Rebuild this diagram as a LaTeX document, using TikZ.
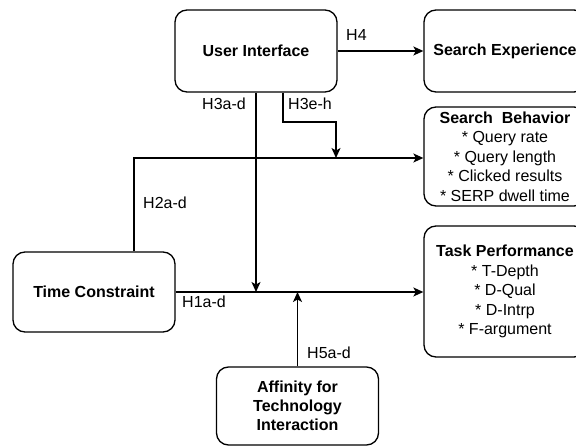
\documentclass[tikz,border=0pt]{standalone}
\usepackage{fontspec}
\setmainfont{Liberation Sans}
\usetikzlibrary{arrows.meta, positioning}
\tikzset{
  every picture/.style={font=\fontsize{16}{19.5}\selectfont, >={Stealth[length=10pt, width=9pt, inset=2.5pt]}},
  var/.style={draw=black, line width=1.3pt, rounded corners=12pt, minimum width=162pt,
              inner sep=0pt, align=center, font=\fontsize{16}{19}\selectfont\bfseries},
  listvar/.style={var, font=\fontsize{16}{19.5}\selectfont},
  lbl/.style={anchor=west, inner sep=0pt},
  flow/.style={->, line width=1.3pt},
}

\begin{document}
\begin{tikzpicture}[x=1pt, y=-1pt]
  \useasboundingbox (0,0) rectangle (576,446);
  % constructs
  \node[listvar, minimum height=99pt] (sb) at (505,156.5) {\textbf{Search\ \ Behavior}\\{*} Query rate\\{*} Query length\\{*} Clicked results\\{*} SERP dwell time};
  \node[var, minimum height=82pt] (ui) at (256,51) {User Interface};
  \node[var, minimum height=82pt] (se) at (505,51) {Search Experience};
  \node[listvar, minimum height=131pt] (tp) at (505,291.5) {\textbf{Task Performance}\\{*} T-Depth\\{*} D-Qual\\{*} D-Intrp\\{*} F-argument};
  \node[var, minimum height=80pt] (tc) at (94,292) {Time Constraint};
  \node[var, minimum height=78pt] (afti) at (297.5,406) {Affinity for\\Technology\\Interaction};

  % bends and landing points of the moderating paths
  \coordinate (h2bend) at (134,158);
  \coordinate (h3bend) at (283,122);
  \coordinate (h3land) at (336,158);

  % paths
  \draw[flow] (ui) -- (se);
  \draw[flow] (tc.east) -- (tp.west |- tc.east);
  \draw[flow] (tc.north -| h2bend) -- (h2bend) -- (sb.west |- h2bend);
  \draw[flow] (ui.south) -- (ui.south |- tc.east);
  \draw[flow] (ui.south -| h3bend) -- (h3bend) -| (h3land);
  \draw[flow] (afti.north) -- (afti.north |- tc.east);

  % hypothesis labels
  \node[lbl] (h4)   at (346,35)  {H4};
  \node[lbl] (h3ad) at (202,104) {H3a-d};
  \node[lbl] (h3eh) at (288,104) {H3e-h};
  \node[lbl] (h2ad) at (143,203) {H2a-d};
  \node[lbl] (h1ad) at (182,302) {H1a-d};
  \node[lbl] (h5ad) at (307,353) {H5a-d};
\end{tikzpicture}
\end{document}
